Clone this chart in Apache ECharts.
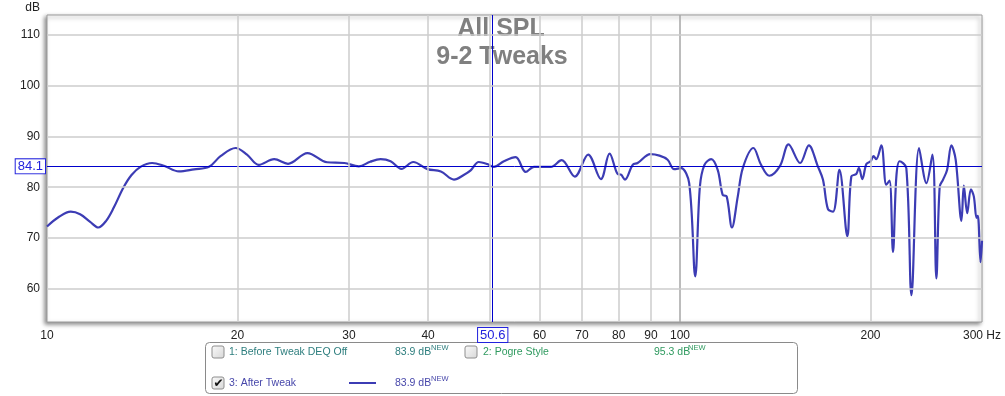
<!DOCTYPE html>
<html>
<head>
<meta charset="utf-8">
<script src="https://cdn.jsdelivr.net/npm/echarts@6/dist/echarts.min.js"></script>
<style>
html,body{margin:0;padding:0;background:#fff;}
#chart{width:1005px;height:396px;}
</style>
</head>
<body>
<div id="chart"></div>
<script>
// ---- data ----
const freqs = [10, 10.45, 10.9, 11.28, 11.7, 12.05, 12.4, 12.75, 13.2, 13.6, 14.05, 14.66, 15.3, 16.16, 17.07, 18.03, 18.8, 19.86,
  20.7, 21.6, 22.85, 24.03, 25.79, 27.7, 29.5, 31.1, 32.4, 33.65, 34.9, 36.3, 37.9, 39.9, 41.9, 43.95, 45.6, 46.7, 48.1,
  49.6, 50.8, 52.7, 55.0, 57.05, 58.8, 62.5, 65.0, 68.2, 71.6, 75.0, 77.4, 79.7, 80.7, 81.85, 84.2, 85.7, 89.8, 92.8,
  95.6, 97.9, 100.4, 103.4, 105.7, 107.5, 109.3, 112.0, 114.7, 116.8, 118.5, 120.8, 123.4, 125.7, 130.6, 134.3, 138.4,
  143.9, 148.4, 154.8, 159.8, 165.1, 168.2, 171.3, 174.5, 178.6, 183.8, 186.5, 189.9, 191.7, 194.1, 197.0, 200.0,
  202.2, 204.2, 208.0, 211.8, 214.3, 217.0, 219.7, 222.3, 227.8, 232.1, 238.6, 245.1, 250.5, 254.1, 257.2, 260.4,
  264.2, 268.4, 272.6, 278.4, 280.8, 284.3, 288.1, 291.2, 294.1, 295.5, 298.4, 300];
const spl = [72.3, 74.2, 75.2, 74.7, 73.2, 72.1, 73.4, 76.0, 79.9, 82.4, 84.0, 84.75, 84.2, 83.1, 83.5, 84.0, 86.1, 87.7,
  86.4, 84.4, 85.5, 84.6, 86.7, 84.9, 84.75, 84.1, 85.0, 85.5, 85.1, 83.6, 84.95, 83.55, 83.1, 81.5, 82.45, 83.3, 84.95,
  84.55, 84.0, 85.1, 85.9, 83.0, 84.0, 84.0, 85.3, 82.1, 86.4, 81.6, 86.6, 82.6, 82.45, 81.5, 84.4, 84.75, 86.5, 86.2,
  85.4, 83.55, 83.75, 80.8, 62.5, 80.1, 84.4, 85.5, 83.4, 78.5, 78.2, 72.1, 78.2, 83.8, 87.7, 84.4, 82.25,
  84.2, 88.4, 84.75, 88.2, 84.1, 81.5, 75.7, 75.2, 83.4, 70.4, 82.1, 82.6, 83.8, 81.6, 84.55, 85.1,
  86.1, 85.5, 88.2, 80.5, 81.3, 67.3, 82.1, 85.1, 83.75, 58.8, 87.7, 80.8, 86.4, 62.1, 80.1, 81.5,
  83.4, 88.2, 85.4, 73.4, 80.3, 74.9, 79.6, 78.2, 74.0, 74.4, 65.3, 69.5];

const xLabelVals = [10, 20, 30, 40, 60, 70, 80, 90, 100, 200, 300];
const xGridVals = [20, 30, 40, 50, 60, 70, 80, 90, 200];
const xDecadeVals = [100];
const yTickVals = [60, 70, 80, 90, 100, 110];
const cursorFreq = 50.6;
const cursorLevel = 84.1;
const titleLines = ['All SPL', '9-2 Tweaks'];
const legendNames = ['1: Before Tweak DEQ Off', '2: Pogre Style', '3: After Tweak'];
const legendLevels = ['83.9 dB', '95.3 dB', '83.9 dB'];

// ---- chart ----
const FONT = 'Liberation Sans, Arial, sans-serif';
const chart = echarts.init(document.getElementById('chart'), null, {renderer: 'canvas'});
const lineData = freqs.map((f, i) => [f, spl[i]]);

function chk(x, y, checked) {
  const els = [{
    type: 'rect', shape: {x: x, y: y, width: 12, height: 12, r: 2},
    style: {fill: new echarts.graphic.LinearGradient(0, 0, 1, 1, [{offset: 0, color: '#fbfbfb'}, {offset: 1, color: '#d6d6d6'}]),
      stroke: '#8e8e8e', lineWidth: 1}
  }];
  if (checked) {
    els.push({type: 'text', style: {text: '✔', x: x + 6.5, y: y + 6.5, align: 'center', verticalAlign: 'middle',
      font: 'bold 12px DejaVu Sans', fill: '#111'}});
  }
  return els;
}
function lgText(txt, x, y, color, size) {
  return {type: 'text', style: {text: txt, x: x, y: y, verticalAlign: 'middle', font: (size || 10.5) + 'px ' + FONT, fill: color}};
}

const c1 = '#2c7d7d', c2 = '#2f9a5f', c3 = '#4747aa';
const graphics = [
  {type: 'text', z: 0, zlevel: 0, style: {text: titleLines[0], x: 501, y: 29, align: 'center', verticalAlign: 'middle', font: 'bold 25px ' + FONT, fill: '#808080'}},
  {type: 'text', z: 0, zlevel: 0, style: {text: titleLines[1], x: 502, y: 57, align: 'center', verticalAlign: 'middle', font: 'bold 25px ' + FONT, fill: '#808080'}},
  {type: 'text', style: {text: 'dB', x: 40, y: 8, align: 'right', verticalAlign: 'middle', font: '12px ' + FONT, fill: '#222'}},
  {type: 'rect', shape: {x: 205.5, y: 342.5, width: 592, height: 51, r: 4}, style: {fill: '#fff', stroke: '#8a8a8a', lineWidth: 1}},
  ...chk(212, 346, false),
  lgText(legendNames[0], 229, 352, c1),
  lgText(legendLevels[0], 395, 352, c1),
  lgText('NEW', 431, 348, c1, 7.5),
  ...chk(465, 346, false),
  lgText(legendNames[1], 483, 352, c2),
  lgText(legendLevels[1], 654, 352, c2),
  lgText('NEW', 688, 348, c2, 7.5),
  ...chk(212, 377, true),
  lgText(legendNames[2], 229, 383, c3),
  {type: 'line', shape: {x1: 349, y1: 383, x2: 376, y2: 383}, style: {stroke: '#3c3cb4', lineWidth: 2}},
  lgText(legendLevels[2], 395, 383, c3),
  lgText('NEW', 431, 379, c3, 7.5)
];

const gridLine = (v, color, w) => ({xAxis: v, lineStyle: {color: color, width: w, type: 'solid'}, label: {show: false}});
const option = {
  animation: false,
  backgroundColor: '#fff',
  grid: {left: 47, right: 23, top: 15, bottom: 74, show: true, backgroundColor: '#fff', borderColor: '#9c9c9c', borderWidth: 1,
    shadowColor: 'rgba(0,0,0,0.45)', shadowBlur: 4, shadowOffsetX: -2, shadowOffsetY: 2},
  xAxis: [
    {type: 'log', logBase: 10, min: 10, max: 300, show: false},
    {type: 'value', min: 1, max: Math.log10(300), position: 'bottom',
      axisLine: {show: false}, axisTick: {show: false}, splitLine: {show: false},
      axisLabel: {customValues: xLabelVals.map(v => Math.log10(v)), margin: 8, color: '#222', fontSize: 12, fontFamily: FONT,
        hideOverlap: false,
        formatter: v => { const f = Math.round(Math.pow(10, v)); return f === 300 ? '300 Hz' : String(f); }}}
  ],
  yAxis: {type: 'value', min: 53.55, max: 113.8, axisLine: {show: false}, axisTick: {show: false}, splitLine: {show: false},
    axisLabel: {customValues: yTickVals, margin: 7, color: '#222', fontSize: 12, fontFamily: FONT}},
  series: [
    {type: 'line', xAxisIndex: 0, data: lineData, showSymbol: false, silent: true, z: 1,
      lineStyle: {opacity: 0},
      markLine: {silent: true, symbol: ['none', 'none'], animation: false,
        data: [
          ...xGridVals.map(v => gridLine(v, '#cccccc', 1.5)),
          ...xDecadeVals.map(v => gridLine(v, '#a6a6a6', 1.5)),
          ...yTickVals.map(v => ({yAxis: v, lineStyle: {color: '#cccccc', width: 1.5, type: 'solid'}, label: {show: false}}))
        ]}},
    {type: 'line', xAxisIndex: 0, data: lineData, showSymbol: false, smooth: 0.35, z: 3,
      lineStyle: {color: '#3c3cb4', width: 2.2},
      markLine: {silent: true, symbol: ['none', 'none'], animation: false, z: 4,
        data: [
          {yAxis: cursorLevel, lineStyle: {color: '#0000cc', width: 1, type: 'solid'},
            label: {show: true, position: 'start', distance: 2, formatter: String(cursorLevel), color: '#2222dd', fontSize: 13,
              fontFamily: FONT, backgroundColor: '#fff', borderColor: '#2222dd', borderWidth: 1, padding: [1, 2, 0, 2]}},
          {xAxis: cursorFreq, lineStyle: {color: '#0000cc', width: 1, type: 'solid'},
            label: {show: true, position: 'start', distance: 6, formatter: String(cursorFreq), color: '#2222dd', fontSize: 13,
              fontFamily: FONT, backgroundColor: '#fff', borderColor: '#2222dd', borderWidth: 1, padding: [1, 2, 0, 2]}}
        ]}}
  ],
  graphic: graphics
};
chart.setOption(option);
</script>
</body>
</html>
